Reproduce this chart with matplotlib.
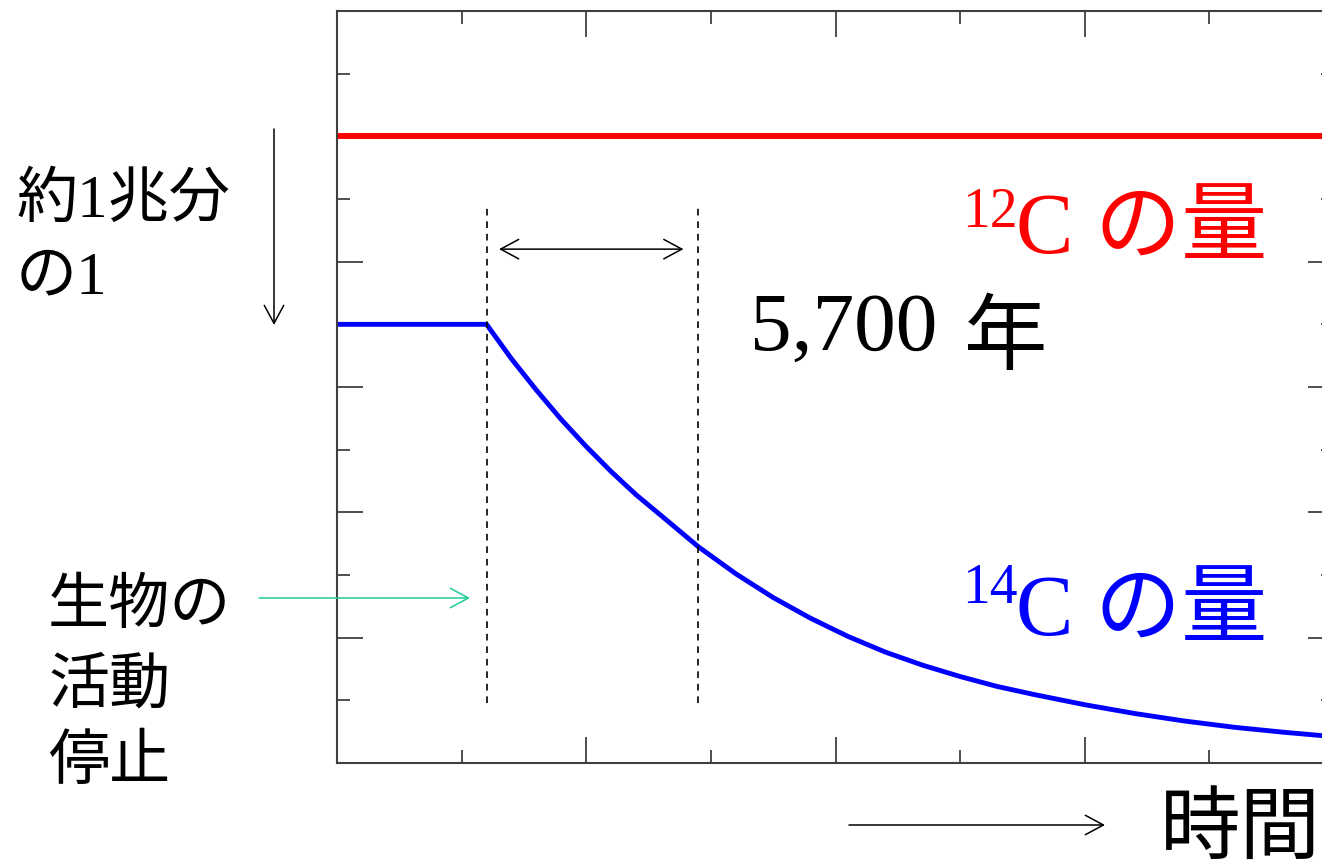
import matplotlib
matplotlib.use("Agg")
import matplotlib.pyplot as plt
from matplotlib.patches import FancyArrowPatch
from matplotlib.ticker import MultipleLocator

# Fonts: serif for latin digits, gothic fallback for Japanese
plt.rcParams['font.family'] = ['Liberation Serif', 'Noto Sans CJK JP']

# Data (arbitrary units)
c12_time = [0.0, 8.0]
c12_amount = [10.0, 10.0]

c14_time = [0.0, 1.2, 1.4, 1.6, 1.8, 2.0, 2.2, 2.4, 2.6, 2.9, 3.2, 3.5, 3.8,
            4.1, 4.4, 4.7, 5.0, 5.3, 5.6, 6.0, 6.4, 6.8, 7.2, 7.6, 8.0]
c14_amount = [7.0, 7.0, 6.45, 5.95, 5.48, 5.05, 4.65, 4.28, 3.95, 3.45, 3.02, 2.64, 2.31,
              2.02, 1.77, 1.56, 1.38, 1.22, 1.09, 0.93, 0.79, 0.67, 0.57, 0.49, 0.42]

stop_time = 1.2      # death of the organism
half_time = 2.9      # one half-life later
guide_bottom = 0.96
guide_top = 8.9
span_arrow_y = 8.2

W, H = 1322, 861
fig = plt.figure(figsize=(W / 100, H / 100), dpi=100)
ax = fig.add_axes([337 / W, 1 - 763 / H, 997 / W, 752 / H])

ax.plot(c12_time, c12_amount, color='#ff0000', lw=4.3, solid_capstyle='butt')
ax.plot(c14_time, c14_amount, color='#0000ff', lw=3.5, solid_joinstyle='round')

# dashed guides at death and after one half-life
ax.vlines([stop_time, half_time], guide_bottom, guide_top, colors='black',
          linestyles=(0, (4, 3.5)), lw=1.2)

arrow_kw = dict(arrowstyle='<->,head_length=1.3,head_width=0.7', lw=1.1,
                color='black', mutation_scale=10, shrinkA=0, shrinkB=0)
ax.annotate('', xy=(stop_time + 0.1, span_arrow_y), xytext=(half_time - 0.12, span_arrow_y),
            arrowprops=arrow_kw)

ax.set_xlim(0, 8)
ax.set_ylim(0, 12)
ax.xaxis.set_major_locator(MultipleLocator(2))
ax.xaxis.set_minor_locator(MultipleLocator(1))
ax.yaxis.set_major_locator(MultipleLocator(2))
ax.yaxis.set_minor_locator(MultipleLocator(1))
ax.tick_params(which='both', direction='in', top=True, right=True,
               labelbottom=False, labelleft=False, color='#404040', width=1.3)
ax.tick_params(which='major', length=19)
ax.tick_params(which='minor', length=9.5)
for s in ax.spines.values():
    s.set_color('#404040')
    s.set_linewidth(1.5)


def ftext(px, py, s, **kw):
    fig.text(px / W, 1 - py / H, s, va='baseline', ha='left', **kw)


# labels for the two isotopes
ftext(962, 227, '12', fontsize=40, color='#ff0000')
ftext(1016, 253, 'C の量', fontsize=62, color='#ff0000')
ftext(962, 603, '14', fontsize=40, color='#0000ff')
ftext(1016, 635, 'C の量', fontsize=62, color='#0000ff')

ftext(750, 350, '5,700', fontsize=60, color='black')
ftext(964, 363, '年', fontsize=60, color='black')

# left annotations
ftext(16, 217, '約1兆分', fontsize=44)
ftext(16, 293, 'の1', fontsize=44)
ftext(48, 623, '生物の', fontsize=44)
ftext(48, 703, '活動', fontsize=44)
ftext(48, 779, '停止', fontsize=44)
ftext(1160, 853, '時間', fontsize=58)

one_way = dict(arrowstyle='->,head_length=1.3,head_width=0.7', lw=1.1,
               mutation_scale=10, shrinkA=0, shrinkB=0)
fig.add_artist(FancyArrowPatch((274 / W, 1 - 129 / H), (274 / W, 1 - 325 / H),
                               transform=fig.transFigure, color='black', **one_way))
fig.add_artist(FancyArrowPatch((259 / W, 1 - 598 / H), (470 / W, 1 - 598 / H),
                               transform=fig.transFigure, color='#1fcc99', **one_way))
fig.add_artist(FancyArrowPatch((849 / W, 1 - 825 / H), (1105 / W, 1 - 825 / H),
                               transform=fig.transFigure, color='black', **one_way))

fig.savefig('out.png', dpi=100)
